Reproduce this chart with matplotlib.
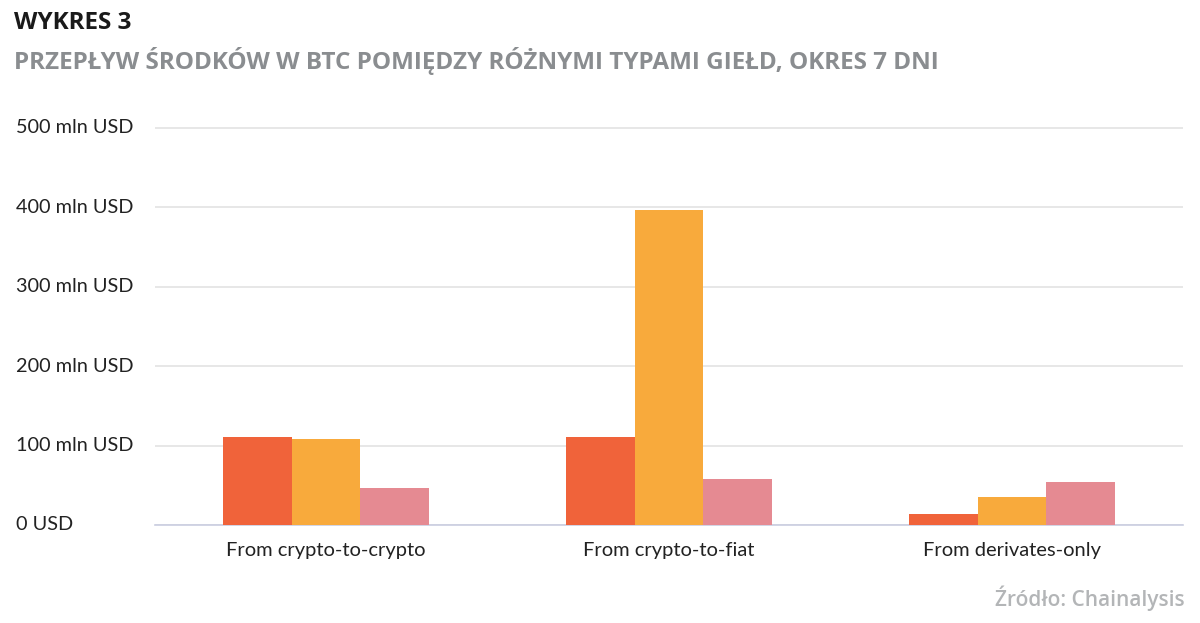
import matplotlib.pyplot as plt
import matplotlib.transforms as mtransforms
import numpy as np

plt.rcParams['font.family'] = ['Lato', 'DejaVu Sans']

categories = ['From crypto-to-crypto', 'From crypto-to-fiat', 'From derivates-only']
series_a = [111, 111, 14]
series_b = [108, 396, 35]
series_c = [46, 58, 54]
yticks = [0, 100, 200, 300, 400, 500]
ytick_labels = ['0 USD', '100 mln USD', '200 mln USD', '300 mln USD', '400 mln USD', '500 mln USD']
colors = ['#F0633A', '#F8AA3C', '#E58A92']

fig = plt.figure(figsize=(12, 6.23), dpi=100)
ax = fig.add_axes([0.129, 1 - 525 / 623, 0.857, (525 - 112) / 623])

x = np.arange(len(categories))
w = 0.2
for i, (vals, c) in enumerate(zip([series_a, series_b, series_c], colors)):
    ax.bar(x + (i - 1) * w, vals, width=w, color=c, zorder=3)

ax.set_xlim(-0.5, 2.5)
ax.set_ylim(0, 520)
ax.set_yticks(yticks)
ax.set_yticklabels([])
ax.tick_params(axis='y', length=0)
ax.tick_params(axis='x', length=0, pad=12, labelsize=14.5, labelcolor='#222222')
ax.set_xticks(x)
ax.set_xticklabels(categories)
ax.grid(axis='y', color='#e3e3e3', linewidth=1.2, zorder=0)
for s in ['top', 'right', 'left']:
    ax.spines[s].set_visible(False)
ax.spines['bottom'].set_color('#c9cde0')
ax.spines['bottom'].set_linewidth(1.2)

trans = mtransforms.blended_transform_factory(fig.transFigure, ax.transData)
for v, lab in zip(yticks, ytick_labels):
    ax.text(16 / 1200, v, lab, transform=trans, ha='left', va='center',
            fontsize=14.3, color='#222222')

fig.text(14 / 1200, 1 - 23 / 623, 'WYKRES 3', fontsize=17.5, fontweight='bold',
         color='#1a1a1a', va='center', ha='left', family=['Open Sans', 'DejaVu Sans'])
fig.text(14 / 1200, 1 - 61 / 623,
         'PRZEPŁYW ŚRODKÓW W BTC POMIĘDZY RÓŻNYMI TYPAMI GIEŁD, OKRES 7 DNI',
         fontsize=17.5, fontweight='bold', color='#8a8d90', va='center', ha='left',
         family=['Open Sans', 'DejaVu Sans'])
fig.text(1185 / 1200, 1 - 598 / 623, 'Źródło: Chainalysis', fontsize=15,
         color='#b3b5b7', va='center', ha='right', fontweight='semibold',
         family=['Open Sans', 'DejaVu Sans'])

fig.savefig('out.png', dpi=100, facecolor='white')
